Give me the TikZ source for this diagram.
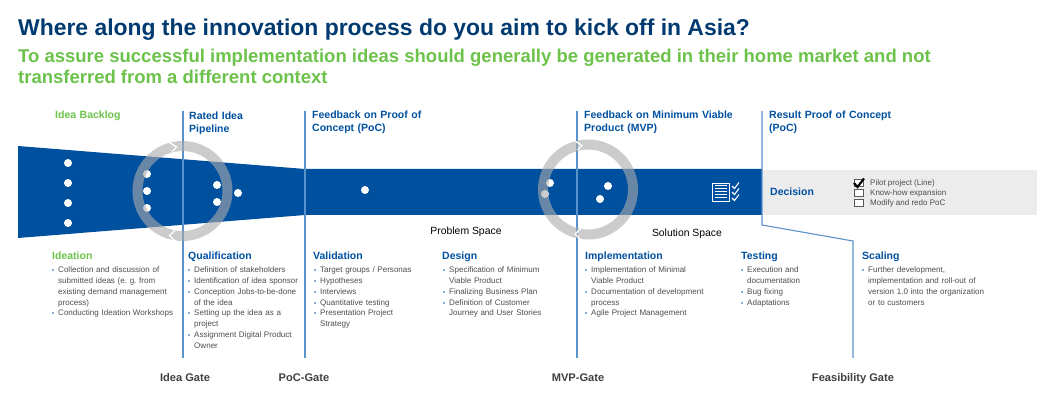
\documentclass[tikz,border=0pt]{standalone}
\usepackage{fontspec}
\setmainfont{Liberation Sans}
\usetikzlibrary{positioning}
\definecolor{bandblue}{HTML}{0050A0}
\definecolor{linkblue}{HTML}{5C92CA}
\definecolor{titlenavy}{HTML}{003A70}
\definecolor{leafgreen}{HTML}{6CC24A}
\definecolor{bodygray}{HTML}{4D4D4D}
\definecolor{panelgray}{HTML}{ECECEC}
\definecolor{ringgray}{HTML}{ABABAB}
\newcommand{\blt}{\par\hangindent=6pt\hangafter=1\noindent\makebox[6pt][l]{\textcolor{bandblue}{\fontsize{6}{6}\selectfont\textbullet}}}
\begin{document}
\begin{tikzpicture}[x=1pt,y=-1pt,
    dot/.style={circle,fill=white,inner sep=0pt,minimum size=8pt},
    gate/.style={draw=linkblue,line width=1.1pt},
    ring/.style={line width=10pt,draw=ringgray,opacity=0.61},
    head/.style={anchor=north west,inner sep=0pt,text=bandblue,align=left,text width=170pt,
      font=\fontsize{10.5}{13}\selectfont\bfseries},
    steplist/.style={anchor=north west,inner sep=0pt,text=bodygray,text width=150pt,
      font=\fontsize{8.05}{10.85}\selectfont},
    gatename/.style={anchor=base,inner sep=0pt,text=black!75,font=\fontsize{11.1}{13}\selectfont\bfseries},
    spacename/.style={anchor=base,inner sep=0pt,text=black,font=\fontsize{10.4}{12}\selectfont},
    tick/.style={draw=black!65,line width=0.7pt,fill=white}]
  \useasboundingbox (0,0) rectangle (1050,403);
  % title lines
  \node[anchor=base west,inner sep=0pt,text=titlenavy,font=\fontsize{22.9}{26}\selectfont\bfseries]
    (title) at (18,35.5) {Where along the innovation process do you aim to kick off in Asia?};
  \node[anchor=base west,inner sep=0pt,text=leafgreen,font=\fontsize{18.5}{22}\selectfont\bfseries]
    (subone) at (18,62.5) {To assure successful implementation ideas should generally be generated in their home market and not};
  \node[anchor=base west,inner sep=0pt,text=leafgreen,font=\fontsize{18.5}{22}\selectfont\bfseries]
    (subtwo) at (18,84) {transferred from a different context};
  % funnel and decision panel
  \fill[panelgray] (763,170) rectangle (1037,215);
  \fill[bandblue] (18,146) -- (305,169) -- (762,169) -- (762,215) -- (305,215) -- (18,238) -- cycle;
  % ideas in the funnel
  \foreach \n/\px/\py in {a/68/163,b/68/183,c/68/203,d/68/223,e/147/174,f/147/191,g/147/208,
      h/217/185,i/217/202,j/238/193,k/365/190,l/550/183,m/545/194,n/608/186,o/600/199}{
    \node[dot] (idea\n) at (\px,\py) {};
  }
  % gate lines
  \coordinate (gatea) at (183,111);
  \coordinate (gateaend) at (183,358);
  \coordinate (gateb) at (305,111);
  \coordinate (gatebend) at (305,358);
  \coordinate (gatec) at (577,111);
  \coordinate (gatecend) at (577,358);
  \coordinate (gated) at (762,111);
  \coordinate (gatedbend) at (762,225);
  \coordinate (gatedknee) at (853,241);
  \coordinate (gatedend) at (853,358);
  \draw[gate] (gatea) -- (gateaend);
  \draw[gate] (gateb) -- (gatebend);
  \draw[gate] (gatec) -- (gatecend);
  \draw[gate] (gated) -- (gatedbend) -- (gatedknee) -- (gatedend);
  % iteration rings
  \foreach \cx/\cy in {182.5/191,588/189.5}{
    \begin{scope}[shift={(\cx,\cy)}]
      \draw[ring] (0,0) circle (45pt);
      \draw[white,line width=1.3pt] (-13,-48.5) -- (-6,-44) -- (-10.5,-39.5);
      \draw[white,line width=1.3pt] (-7.5,39.5) -- (-13,44.5) -- (-7,50.5);
    \end{scope}
  }
  % document with ticks
  \node[draw=white,fill=bandblue,line width=0.9pt,inner sep=0pt,minimum width=17pt,minimum height=18pt]
    (sheet) at (720.5,192) {};
  \foreach \ly in {185.5,188.5,191.5,194.5,197.5}{
    \draw[white,line width=1.1pt] (714.5,\ly) -- (726.5,\ly);
  }
  \foreach \ty in {186,192,198}{
    \draw[white,line width=1.1pt] (732,\ty) -- (734.5,\ty+2.5) -- (739,\ty-3.5);
  }
  % decision panel
  \node[anchor=base west,inner sep=0pt,text=bandblue,font=\fontsize{10.5}{13}\selectfont\bfseries]
    (decision) at (770,196) {Decision};
  \foreach \n/\py/\opt in {a/183/Pilot project (Line),b/193/Know-how expansion,c/203/Modify and redo PoC}{
    \draw[tick] (854,\py-4) rectangle (863,\py+3.5);
    \node[anchor=west,inner sep=0pt,text=bodygray,font=\fontsize{8}{10}\selectfont] (opt\n) at (870,\py) {\opt};
  }
  \draw[black,line width=2.1pt] (854,183) -- (857.5,187) -- (864,178.5);
  % phase headings
  \node[head,text=leafgreen] (backlog) at (55,110.5) {Idea Backlog};
  \node[head] (pipeline) at (189,111.5) {Rated Idea\\Pipeline};
  \node[head] (pocfb) at (312,110.5) {Feedback on Proof of\\Concept (PoC)};
  \node[head] (mvpfb) at (584,110.5) {Feedback on Minimum Viable\\Product (MVP)};
  \node[head] (result) at (769,110.5) {Result Proof of Concept\\(PoC)};
  % problem and solution space
  \node[spacename] (problem) at (466,235) {Problem Space};
  \node[spacename] (solution) at (687,237) {Solution Space};
  % step headings
  \node[head,text=leafgreen] (ideation) at (52,251.7) {Ideation};
  \node[head] (qualification) at (188,251.7) {Qualification};
  \node[head] (validation) at (313,251.7) {Validation};
  \node[head] (design) at (442,251.7) {Design};
  \node[head] (implementation) at (585,251.7) {Implementation};
  \node[head] (testing) at (741,251.7) {Testing};
  \node[head] (scaling) at (862,251.7) {Scaling};
  % step lists
  \node[steplist] (ideationlist) at (52,261.5) {\blt Collection and discussion of\newline submitted ideas (e.\ g.\ from\newline existing demand management\newline process)
    \blt Conducting Ideation Workshops\par};
  \node[steplist] (qualificationlist) at (188,261.5) {\blt Definition of stakeholders
    \blt Identification of idea sponsor
    \blt Conception Jobs-to-be-done\newline of the idea
    \blt Setting up the idea as a\newline project
    \blt Assignment Digital Product\newline Owner\par};
  \node[steplist] (validationlist) at (314,261.5) {\blt Target groups / Personas
    \blt Hypotheses
    \blt Interviews
    \blt Quantitative testing
    \blt Presentation Project\newline Strategy\par};
  \node[steplist] (designlist) at (443,261.5) {\blt Specification of Minimum\newline Viable Product
    \blt Finalizing Business Plan
    \blt Definition of Customer\newline Journey and User Stories\par};
  \node[steplist] (implementationlist) at (585,261.5) {\blt Implementation of Minimal\newline Viable Product
    \blt Documentation of development\newline process
    \blt Agile Project Management\par};
  \node[steplist] (testinglist) at (741,261.5) {\blt Execution and\newline documentation
    \blt Bug fixing
    \blt Adaptations\par};
  \node[steplist] (scalinglist) at (862,261.5) {\blt Further development,\newline implementation and roll-out of\newline version 1.0 into the organization\newline or to customers\par};
  % gate names
  \node[gatename] (ideagate) at (185,381.5) {Idea Gate};
  \node[gatename] (pocgate) at (304,381.5) {PoC-Gate};
  \node[gatename] (mvpgate) at (578,381.5) {MVP-Gate};
  \node[gatename] (feasgate) at (853,381.5) {Feasibility Gate};
\end{tikzpicture}
\end{document}
